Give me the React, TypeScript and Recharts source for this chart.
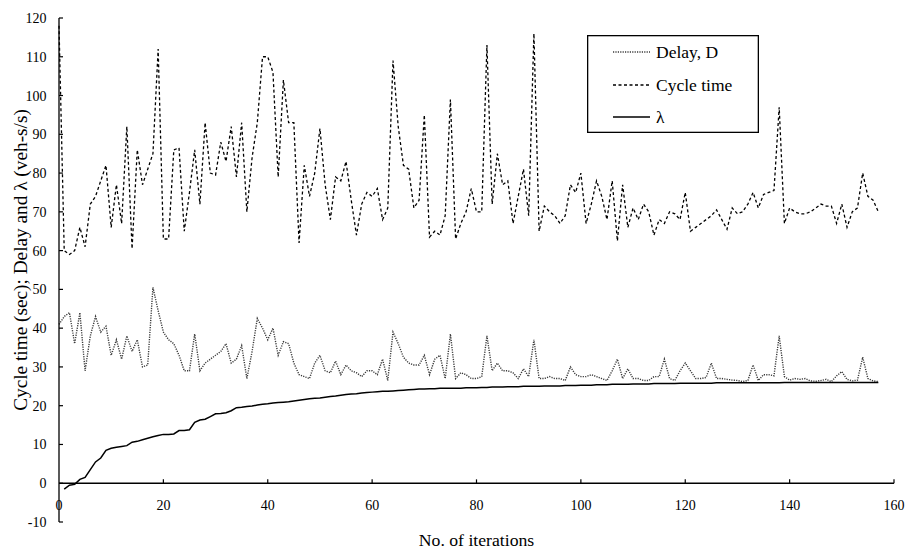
import React from "react";
import { LineChart, Line, XAxis, YAxis, ReferenceLine, Legend } from "recharts";

// values, one per iteration (0..157)
const cycleTime = [
  118, 60, 59, 60, 66, 61, 72, 74, 78, 82,
  66, 77, 67, 92, 60.5, 86, 77, 81, 85, 112,
  63, 63, 86, 86.5, 65, 75, 86, 72, 93, 80,
  79.5, 88, 83, 92, 79, 93, 70, 84, 93, 110,
  110, 106, 79, 104, 93, 93, 62, 82, 74, 80,
  91.5, 77, 68, 79, 78, 83, 73, 64, 72, 75,
  74, 76, 68, 71, 109, 92, 82, 81, 71, 73,
  95, 63.5, 65, 64, 69, 99, 63, 67, 70, 76,
  70, 70, 113, 72, 85, 77, 78, 67, 74, 81,
  69, 116, 65, 71.5, 70, 69, 67, 69, 77, 75,
  80, 67, 72, 78, 74, 68, 78, 62.5, 77, 66,
  71, 68, 72, 70, 64, 68, 67, 70, 69.5, 68,
  75, 65, 66, 67, 68, 69, 70.5, 68, 65.5, 71,
  69.5, 70, 72, 75, 71, 74.5, 75, 75.5, 97, 67,
  71, 70, 69.5, 69.5, 70, 71, 72, 71.5, 71.5, 67,
  72, 66, 70, 71, 80, 74, 73, 70,
];

const delay = [
  41, 43, 44, 36, 44, 29, 38, 43, 39, 40.5,
  33, 37, 32, 38, 34, 37, 30, 30.5, 50.5, 44.5,
  39, 37, 36, 33, 29, 29, 38.5, 29, 31, 32,
  33, 34, 36, 31, 32, 35.5, 27, 34, 42.5, 40,
  37, 40, 33, 36.5, 36, 31, 28, 27.5, 27, 31,
  33, 29, 28.5, 31.5, 28, 30.5, 29, 28.5, 27.5, 29,
  29, 28, 32, 26.5, 39, 36, 32.5, 31, 30.5, 30.5,
  33, 28, 32, 33, 27, 38.5, 27, 28.5, 28, 27,
  27, 27.5, 38, 29, 31, 29, 29, 28.5, 27, 29.5,
  27.5, 37, 27, 27, 27.5, 27, 27, 26.5, 30, 28,
  27.5, 27.5, 28, 27.5, 27, 26.5, 29, 32, 27, 29.5,
  27, 27, 26.5, 26.5, 27.5, 27.5, 32, 27, 26.5, 29,
  31, 29, 27, 27, 27.3, 31, 27, 27, 26.8, 26.6,
  26.5, 26.2, 26.5, 30.5, 26.5, 28, 28, 27.7, 38, 27.5,
  26.6, 27, 26.8, 27, 26.4, 26.3, 26.5, 26.8, 26.2, 27.7,
  28.8, 26.8, 26.4, 26.6, 32.5, 27, 26.4, 26.2,
];

const lambda = [
  null, -1.5, -0.5, -0.3, 1, 1.5, 3.5, 5.5, 6.5, 8.5,
  9, 9.3, 9.5, 9.7, 10.6, 10.8, 11.2, 11.6, 12, 12.3,
  12.6, 12.6, 12.7, 13.6, 13.6, 13.8, 15.7, 16.3, 16.5, 17.2,
  17.9, 18, 18.2, 18.7, 19.5, 19.6, 19.8, 19.9, 20.2, 20.4,
  20.5, 20.7, 20.8, 20.9, 21, 21.2, 21.4, 21.6, 21.8, 21.9,
  22, 22.2, 22.4, 22.5, 22.7, 22.9, 23, 23.1, 23.3, 23.4,
  23.5, 23.6, 23.7, 23.7, 23.8, 23.9, 24, 24.1, 24.2, 24.3,
  24.3, 24.4, 24.4, 24.5, 24.5, 24.5, 24.5, 24.5, 24.6, 24.6,
  24.6, 24.7, 24.7, 24.8, 24.8, 24.8, 24.9, 24.9, 24.9, 25,
  25, 25, 25, 25.1, 25.1, 25.1, 25.1, 25.2, 25.2, 25.2,
  25.3, 25.3, 25.3, 25.4, 25.4, 25.4, 25.5, 25.5, 25.5, 25.5,
  25.6, 25.6, 25.6, 25.6, 25.7, 25.7, 25.7, 25.7, 25.7, 25.8,
  25.8, 25.8, 25.8, 25.8, 25.8, 25.8, 25.9, 25.9, 25.9, 25.9,
  25.9, 25.9, 25.9, 25.9, 25.9, 25.9, 25.9, 25.9, 25.9, 26,
  26, 26, 26, 26, 26, 26, 26, 26, 26, 26,
  26, 26, 26, 26, 26, 26, 26, 26,
];

const xTicks = [0, 20, 40, 60, 80, 100, 120, 140, 160];
const xMarks = [20, 40, 60, 80, 100, 120, 140, 160];
const yTicks = [-10, 0, 10, 20, 30, 40, 50, 60, 70, 80, 90, 100, 110, 120];
const legendOrder = ["delay", "cycle", "lambda"];

const chartData = cycleTime.map((c, i) => ({
  iteration: i,
  delay: delay[i],
  cycle: c,
  lambda: lambda[i],
}));

const FONT = "'Liberation Serif', 'DejaVu Serif', serif";

const seriesStyle: Record<string, { stroke: string; dash?: string; width: number }> = {
  delay: { stroke: "#3a3a3a", dash: "1.2 1.2", width: 1.4 },
  cycle: { stroke: "#000", dash: "3 2.5", width: 1.3 },
  lambda: { stroke: "#000", width: 1.5 },
};

const XTick = (props: any) => {
  const { x, y, payload } = props;
  return (
    <text x={x} y={y - 12} textAnchor="middle" style={{ fontFamily: FONT, fontSize: 14 }} fill="#000">
      {payload.value}
    </text>
  );
};

const YTitle = (props: any) => {
  const { viewBox } = props;
  const cx = viewBox.x + 27;
  const cy = viewBox.y + viewBox.height / 2 - 10;
  return (
    <text
      transform={`translate(${cx},${cy}) rotate(-90)`}
      textAnchor="middle"
      style={{ fontFamily: FONT, fontSize: 19.3 }}
      fill="#000"
    >
      Cycle time (sec); Delay and λ (veh-s/s)
    </text>
  );
};

const LegendBox = (props: any) => {
  const { payload = [] } = props;
  const rows = [17, 50, 82];
  const items = [...payload].sort(
    (a: any, b: any) => legendOrder.indexOf(a.dataKey) - legendOrder.indexOf(b.dataKey)
  );
  return (
    <svg width={172} height={98} style={{ display: "block" }}>
      <rect x={0.65} y={0.65} width={170.7} height={96.7} fill="#fff" stroke="#000" strokeWidth={1.3} />
      {items.map((entry: any, k: number) => {
        const st = seriesStyle[entry.dataKey];
        const y = rows[k];
        return (
          <g key={entry.dataKey}>
            <line
              x1={26}
              x2={63}
              y1={y}
              y2={y}
              stroke={st.stroke}
              strokeWidth={st.width}
              strokeDasharray={st.dash}
            />
            <text x={69} y={y + 6} style={{ fontFamily: FONT, fontSize: 17.5 }} fill="#000">
              {entry.value}
            </text>
          </g>
        );
      })}
    </svg>
  );
};

export default function App() {
  return (
    <div style={{ position: "absolute", left: 0, top: 0, width: 905, height: 552, background: "#fff" }}>
      <LineChart
        width={905}
        height={552}
        data={chartData}
        margin={{ top: 18, right: 11, left: 0, bottom: 0 }}
      >
        <XAxis
          dataKey="iteration"
          type="number"
          domain={[0, 160]}
          ticks={xTicks}
          interval={0}
          height={30}
          axisLine={false}
          tickLine={false}
          tickSize={0}
          tickMargin={0}
          tick={<XTick />}
          label={{
            value: "No. of iterations",
            position: "insideBottom",
            offset: 6,
            style: { fontFamily: FONT, fontSize: 17.7 },
            fill: "#000",
          }}
        />
        <YAxis
          type="number"
          domain={[-10, 120]}
          ticks={yTicks}
          interval={0}
          width={59}
          axisLine={{ stroke: "#000", strokeWidth: 1.3 }}
          tickLine={{ stroke: "#000", strokeWidth: 1.2 }}
          tickSize={-4}
          tickMargin={16.5}
          tick={{ style: { fontFamily: FONT, fontSize: 14 }, fill: "#000" }}
          label={YTitle}
        />
        <ReferenceLine y={0} stroke="#000" strokeWidth={1.3} ifOverflow="extendDomain" />
        {xMarks.map((t) => (
          <ReferenceLine
            key={t}
            segment={[
              { x: t, y: 0 },
              { x: t, y: 1 },
            ]}
            stroke="#000"
            strokeWidth={1.2}
          />
        ))}
        <Legend
          layout="horizontal"
          verticalAlign="middle"
          align="center"
          content={<LegendBox />}
          wrapperStyle={{ top: 35, left: 587, width: 172, height: 98 }}
        />
        <Line
          dataKey="delay"
          name="Delay, D"
          type="linear"
          stroke={seriesStyle.delay.stroke}
          strokeWidth={seriesStyle.delay.width}
          strokeDasharray={seriesStyle.delay.dash}
          dot={false}
          activeDot={false}
          isAnimationActive={false}
        />
        <Line
          dataKey="cycle"
          name="Cycle time"
          type="linear"
          stroke={seriesStyle.cycle.stroke}
          strokeWidth={seriesStyle.cycle.width}
          strokeDasharray={seriesStyle.cycle.dash}
          dot={false}
          activeDot={false}
          isAnimationActive={false}
        />
        <Line
          dataKey="lambda"
          name="λ"
          type="linear"
          stroke={seriesStyle.lambda.stroke}
          strokeWidth={seriesStyle.lambda.width}
          dot={false}
          activeDot={false}
          isAnimationActive={false}
        />
      </LineChart>
    </div>
  );
}
